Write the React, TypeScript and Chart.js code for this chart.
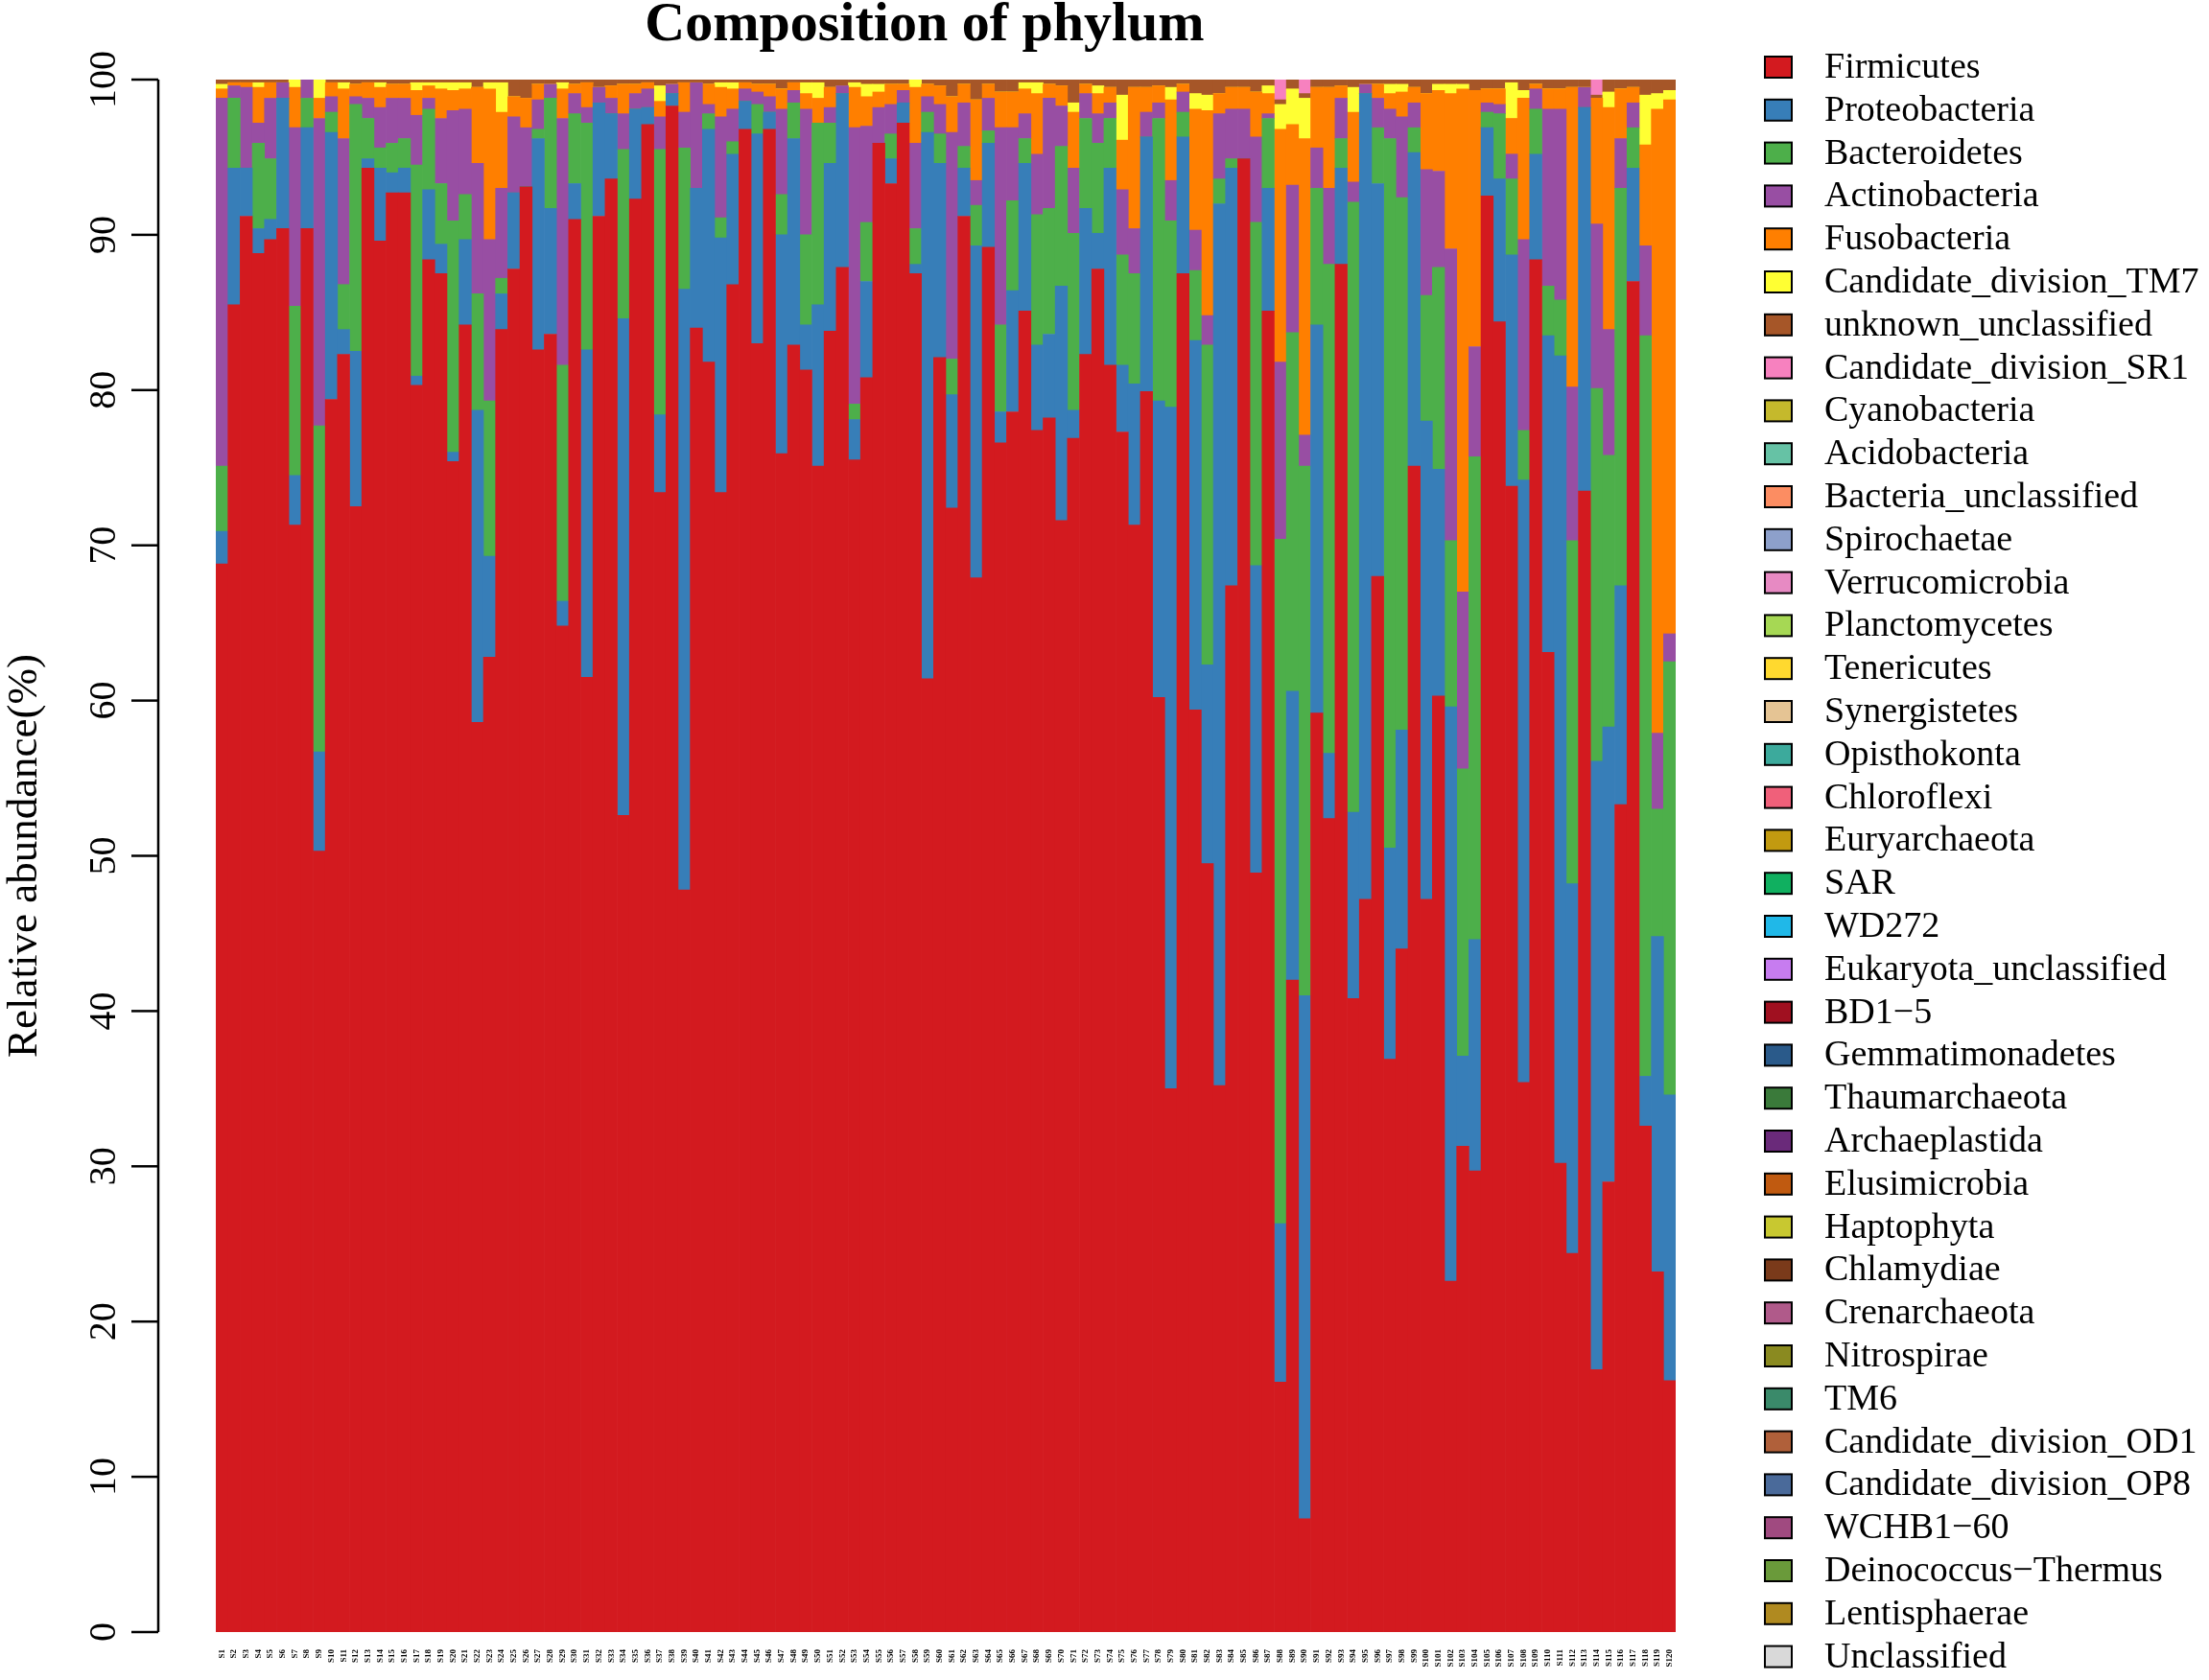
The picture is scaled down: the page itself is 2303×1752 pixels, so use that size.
import React, { useEffect, useRef } from 'react';
import { Chart, registerables } from 'chart.js';

Chart.register(...registerables);

const phyla = [
  'Firmicutes', 'Proteobacteria', 'Bacteroidetes', 'Actinobacteria', 'Fusobacteria',
  'Candidate_division_TM7', 'unknown_unclassified', 'Candidate_division_SR1', 'Cyanobacteria',
  'Acidobacteria', 'Bacteria_unclassified', 'Spirochaetae', 'Verrucomicrobia', 'Planctomycetes',
  'Tenericutes', 'Synergistetes', 'Opisthokonta', 'Chloroflexi', 'Euryarchaeota', 'SAR', 'WD272',
  'Eukaryota_unclassified', 'BD1\u22125', 'Gemmatimonadetes', 'Thaumarchaeota', 'Archaeplastida',
  'Elusimicrobia', 'Haptophyta', 'Chlamydiae', 'Crenarchaeota', 'Nitrospirae', 'TM6',
  'Candidate_division_OD1', 'Candidate_division_OP8', 'WCHB1\u221260', 'Deinococcus\u2212Thermus',
  'Lentisphaerae', 'Unclassified',
];

const phylumColors = [
  '#D31A1F', '#377EB8', '#4DAF4A', '#984EA3', '#FF7F00', '#FFFF33', '#A65628', '#F781BF',
  '#C5B92C', '#66C2A5', '#FC8D62', '#8DA0CB', '#E78AC3', '#A6D854', '#FFD92F', '#E5C494',
  '#3CAA9C', '#F0607A', '#C29A10', '#10B060', '#20B8E8', '#C77CF0', '#A01020', '#2A5A8A',
  '#3A7A3A', '#6A2A7A', '#C05A10', '#C8C830', '#7A3A1A', '#B05A8A', '#8A8A20', '#3A8A6A',
  '#B0603A', '#4A6A9A', '#A04A80', '#6A9A3A', '#B08A20', '#D9D9D9',
];

const samples = Array.from({ length: 120 }, (_, i) => `S${i + 1}`);

const firmicutes = [
  68.8, 85.5, 91.2, 88.8, 89.7, 90.4, 71.3, 90.4, 50.3, 79.4,
  82.3, 72.5, 94.3, 89.6, 92.7, 92.7, 80.3, 88.4, 87.5, 75.4,
  84.2, 58.6, 62.8, 83.9, 87.8, 93.1, 82.6, 83.6, 64.8, 91.0,
  61.5, 91.2, 93.6, 52.6, 92.3, 97.1, 73.4, 98.3, 47.8, 84.0,
  81.8, 73.4, 86.8, 96.8, 83.0, 96.8, 75.9, 82.9, 81.3, 75.1,
  83.8, 87.9, 75.5, 80.8, 95.9, 93.3, 97.2, 87.5, 61.4, 82.1,
  72.4, 91.2, 67.9, 89.2, 76.6, 78.6, 85.1, 77.4, 78.2, 71.6,
  76.9, 82.3, 87.8, 81.6, 77.3, 71.3, 79.9, 60.2, 35.0, 87.5,
  59.4, 49.5, 35.2, 67.4, 94.9, 48.9, 85.1, 16.1, 42.0, 7.3,
  59.2, 52.4, 88.1, 40.8, 47.2, 68.0, 36.9, 44.0, 75.1, 47.2,
  60.3, 22.6, 31.3, 29.7, 92.5, 84.4, 73.8, 35.4, 88.4, 63.1,
  30.2, 24.4, 73.5, 16.9, 29.0, 53.3, 87.0, 32.6, 23.2, 16.2,
];

const proteobacteria = [
  2.1, 8.8, 3.1, 1.6, 1.3, 8.4, 3.2, 6.5, 6.4, 17.2,
  1.6, 10.0, 0.6, 4.7, 1.3, 1.6, 0.6, 4.5, 1.9, 0.6,
  5.5, 20.1, 6.5, 2.3, 4.9, 0, 13.6, 8.1, 1.6, 2.3,
  21.1, 7.3, 4.2, 32.0, 5.8, 1.1, 5.0, 0.8, 38.7, 9.0,
  15.0, 16.4, 8.4, 1.8, 13.5, 1.1, 14.1, 13.3, 2.9, 10.4,
  10.8, 11.2, 2.6, 6.2, 0, 1.6, 1.3, 0.6, 35.2, 12.5,
  7.3, 3.1, 21.4, 6.7, 2.0, 7.8, 9.5, 5.5, 5.4, 15.1,
  1.8, 9.4, 2.3, 12.7, 4.3, 9.1, 16.4, 19.1, 43.9, 8.8,
  23.8, 12.8, 56.8, 26.9, 0, 19.8, 7.9, 10.2, 18.6, 33.7,
  25.0, 4.2, 6.2, 12.0, 51.9, 25.3, 13.6, 14.1, 20.2, 30.8,
  14.6, 37.0, 5.8, 14.9, 4.4, 9.2, 14.9, 38.8, 6.8, 20.4,
  52.0, 23.8, 24.7, 39.2, 29.3, 14.1, 7.3, 3.2, 21.6, 18.4,
];

const bacteroidetes = [
  4.2, 4.5, 0, 5.5, 3.9, 0, 10.9, 1.9, 21.0, 1.3,
  2.9, 15.9, 2.6, 1.3, 1.9, 1.9, 13.6, 5.2, 3.9, 14.9,
  2.9, 7.5, 10.0, 1.0, 0, 0, 0.6, 7.1, 15.2, 4.5,
  14.6, 0, 0, 10.9, 0, 0, 17.1, 0, 9.1, 0,
  1.0, 1.3, 0.8, 0, 1.9, 0, 2.6, 2.3, 5.8, 11.7,
  2.6, 0, 1.0, 3.8, 0, 1.6, 0, 2.3, 1.3, 1.9,
  2.3, 1.4, 2.6, 0.8, 5.6, 5.8, 1.6, 8.4, 8.1, 9.0,
  11.4, 5.8, 5.8, 3.2, 7.1, 7.1, 0, 18.2, 12.0, 1.6,
  4.5, 20.6, 1.6, 0.6, 0, 22.1, 4.5, 44.1, 23.1, 34.1,
  8.8, 31.5, 1.9, 39.3, 0, 3.6, 45.7, 34.3, 1.6, 8.1,
  13.0, 10.7, 18.5, 31.1, 1.0, 4.2, 4.9, 3.2, 2.9, 3.2,
  3.6, 22.1, 0, 24.0, 17.5, 25.6, 2.6, 47.7, 8.2, 27.9,
];

const actinobacteria = [
  23.7, 0.8, 5.2, 1.3, 3.9, 1.0, 11.5, 1.2, 19.8, 1.0,
  9.4, 0.5, 1.3, 2.6, 2.9, 2.6, 3.2, 0.7, 4.2, 7.1,
  5.5, 8.4, 10.4, 5.8, 4.9, 3.8, 1.9, 0.9, 15.9, 1.3,
  1.0, 1.0, 1.0, 2.3, 1.0, 1.2, 2.1, 0.6, 2.3, 6.8,
  0.6, 6.5, 2.1, 0.8, 0.8, 1.0, 5.5, 0.8, 8.1, 0,
  1.0, 0.5, 17.8, 6.2, 2.3, 1.9, 0.8, 5.5, 1.0, 1.9,
  14.6, 2.8, 1.6, 2.1, 12.7, 4.7, 1.6, 3.9, 7.1, 2.6,
  4.2, 1.6, 1.9, 1.0, 4.2, 2.9, 1.6, 1.0, 2.6, 1.3,
  2.6, 1.9, 4.2, 3.2, 3.2, 5.5, 0.3, 11.4, 9.5, 2.0,
  2.6, 4.9, 2.6, 1.3, 0.6, 1.9, 1.9, 5.2, 1.6, 8.1,
  6.2, 18.8, 11.4, 7.1, 0.6, 0.6, 1.6, 12.3, 1.3, 11.4,
  12.3, 9.9, 1.3, 10.6, 8.1, 3.2, 1.6, 5.8, 4.9, 1.8,
];

const fusobacteria = [
  0.6, 0.2, 0.3, 2.3, 1.0, 0, 2.6, 0, 1.3, 0.9,
  3.2, 0.8, 1.0, 1.3, 0.9, 0.9, 1.6, 0.8, 1.9, 1.3,
  1.3, 4.9, 9.7, 4.9, 1.3, 1.9, 1.0, 0, 1.9, 0.6,
  1.6, 0, 0.8, 1.9, 0.6, 0.4, 1.0, 0, 1.9, 0,
  1.3, 1.9, 1.3, 0.4, 0.5, 0.8, 1.3, 0.5, 1.0, 1.6,
  1.3, 0, 2.6, 1.9, 1.0, 1.3, 0.4, 3.6, 0.8, 1.2,
  2.3, 1.2, 5.2, 0.9, 2.3, 2.3, 1.6, 3.9, 0.9, 1.3,
  3.6, 0.6, 1.3, 1.0, 3.2, 9.1, 1.6, 1.1, 5.2, 0.5,
  7.8, 13.2, 1.3, 1.4, 1.4, 2.9, 1.3, 15.0, 3.9, 19.1,
  3.9, 6.5, 0.8, 4.5, 0, 0.9, 1.0, 1.6, 1.0, 4.9,
  5.2, 10.0, 32.4, 16.5, 0.9, 1.0, 2.3, 9.1, 0.3, 1.3,
  1.3, 19.3, 0, 8.1, 14.3, 3.2, 1.0, 6.5, 40.2, 34.4,
];

// [sample number, value] for the thin top layers
const tm7Entries: [number, number][] = [
  [1, 0.3], [4, 0.3], [7, 0.5], [9, 1.2], [11, 0.4], [14, 0.3], [17, 0.5], [18, 0.2],
  [19, 0.4], [20, 0.5], [21, 0.4], [23, 0.4], [24, 1.9], [29, 0.4], [37, 1.0], [42, 0.3],
  [43, 0.4], [49, 0.7], [50, 1.0], [53, 0.3], [54, 0.8], [55, 0.5], [58, 0.5], [67, 0.4],
  [68, 0.7], [71, 0.6], [73, 0.5], [75, 2.9], [79, 0.8], [81, 1.0], [82, 1.0], [87, 0.5],
  [88, 1.6], [89, 2.3], [90, 2.6], [94, 1.6], [97, 0.6], [98, 0.5], [101, 0.4], [102, 0.6],
  [103, 0.3], [107, 2.3], [108, 0.5], [115, 1.0], [118, 3.2], [119, 1.0], [120, 0.6],
];

const sr1Entries: [number, number][] = [[88, 1.3], [90, 0.9], [114, 1.0]];

const unknownUnclassified = [
  0.3, 0.2, 0.2, 0.2, 0.2, 0.2, 0, 0, 0, 0.2,
  0.2, 0.3, 0.2, 0.2, 0.3, 0.3, 0.2, 0.2, 0.2, 0.2,
  0.2, 0.5, 0.2, 0.2, 1.1, 1.2, 0.3, 0.3, 0.2, 0.3,
  0.2, 0.5, 0.4, 0.3, 0.3, 0.2, 0.4, 0.3, 0.2, 0.2,
  0.3, 0.2, 0.2, 0.2, 0.3, 0.3, 0.6, 0.2, 0.2, 0.2,
  0.5, 0.4, 0.2, 0.3, 0.3, 0.3, 0.3, 0, 0.3, 0.4,
  1.1, 0.3, 1.3, 0.3, 0.8, 0.8, 0.2, 0.2, 0.3, 0.4,
  1.5, 0.3, 0.4, 0.5, 1.0, 0.5, 0.5, 0.4, 0.5, 0.3,
  0.9, 1.0, 0.9, 0.5, 0.5, 0.8, 0.4, 0.3, 0.6, 0.3,
  0.5, 0.5, 0.4, 0.5, 0.3, 0.3, 0.3, 0.3, 0.5, 0.9,
  0.3, 0.3, 0.3, 0.7, 0.6, 0.6, 0.2, 0.7, 0.3, 0.6,
  0.6, 0.5, 0.5, 0.2, 0.8, 0.6, 0.5, 1.0, 0.9, 0.7,
];

const yTicks = [0, 10, 20, 30, 40, 50, 60, 70, 80, 90, 100];

function fromEntries(entries: [number, number][]) {
  const out = samples.map(() => 0);
  entries.forEach(([n, v]) => { out[n - 1] = v; });
  return out;
}

const seriesData: number[][] = [
  firmicutes, proteobacteria, bacteroidetes, actinobacteria, fusobacteria,
  fromEntries(tm7Entries), unknownUnclassified, fromEntries(sr1Entries),
];

const SERIF = '"Liberation Serif", "DejaVu Serif", serif';

// R-style axes, title and legend drawn on the canvas
const decorations = {
  id: 'decorations',
  afterDraw(chart: any) {
    const { ctx, chartArea, scales } = chart;
    const y = scales.y;
    const x = scales.x;
    ctx.save();
    ctx.fillStyle = '#000';
    ctx.strokeStyle = '#000';

    // title
    ctx.font = `bold 58px ${SERIF}`;
    ctx.textAlign = 'center';
    ctx.textBaseline = 'alphabetic';
    ctx.fillText('Composition of phylum', 964, 42);

    // y axis
    const axisX = chartArea.left - 60;
    ctx.lineWidth = 2.5;
    ctx.beginPath();
    ctx.moveTo(axisX, y.getPixelForValue(0));
    ctx.lineTo(axisX, y.getPixelForValue(100));
    ctx.stroke();
    ctx.font = `40px ${SERIF}`;
    ctx.textBaseline = 'middle';
    yTicks.forEach((v) => {
      const py = y.getPixelForValue(v);
      ctx.beginPath();
      ctx.moveTo(axisX - 28, py);
      ctx.lineTo(axisX, py);
      ctx.stroke();
      ctx.save();
      ctx.translate(axisX - 56, py);
      ctx.rotate(-Math.PI / 2);
      ctx.fillText(String(v), 0, 0);
      ctx.restore();
    });

    // y title
    ctx.save();
    ctx.font = `45px ${SERIF}`;
    ctx.translate(26, (y.getPixelForValue(0) + y.getPixelForValue(100)) / 2);
    ctx.rotate(-Math.PI / 2);
    ctx.fillText('Relative abundance(%)', 0, 0);
    ctx.restore();

    // tiny sample names under the bars
    ctx.font = `bold 9px ${SERIF}`;
    ctx.textAlign = 'right';
    samples.forEach((s, i) => {
      ctx.save();
      ctx.translate(x.getPixelForValue(i), chartArea.bottom + 18);
      ctx.rotate(-Math.PI / 2);
      ctx.fillText(s, 0, 0);
      ctx.restore();
    });

    // legend
    ctx.font = `38px ${SERIF}`;
    ctx.textAlign = 'left';
    ctx.lineWidth = 2;
    chart.data.datasets.forEach((ds: any, i: number) => {
      const cy = 70 + i * 44.8;
      ctx.fillStyle = ds.backgroundColor;
      ctx.fillRect(1840, cy - 11, 28, 22);
      ctx.strokeRect(1840, cy - 11, 28, 22);
      ctx.fillStyle = '#000';
      ctx.fillText(ds.label, 1902, cy + 1);
    });
    ctx.restore();
  },
};

export default function App() {
  const canvasRef = useRef<HTMLCanvasElement | null>(null);
  const chartRef = useRef<Chart | null>(null);

  useEffect(() => {
    document.body.style.margin = '0';
    const ctx = canvasRef.current?.getContext('2d');
    if (ctx) {
      chartRef.current = new Chart(ctx, {
        type: 'bar',
        data: {
          labels: samples,
          datasets: phyla.map((name, i) => ({
            label: name,
            data: seriesData[i] ?? [],
            backgroundColor: phylumColors[i],
            borderWidth: 0,
            barPercentage: 1,
            categoryPercentage: 1,
          })),
        },
        options: {
          responsive: true,
          maintainAspectRatio: false,
          animation: false,
          layout: { padding: { left: 225, right: 556, top: 83, bottom: 50 } },
          plugins: {
            legend: { display: false },
            title: { display: false },
            tooltip: { enabled: false },
          },
          scales: {
            x: { stacked: true, display: false, grid: { display: false } },
            y: { stacked: true, display: false, min: 0, max: 100, grid: { display: false } },
          },
        },
        plugins: [decorations],
      });
    }
    return () => {
      if (chartRef.current) chartRef.current.destroy();
    };
  }, []);

  return (
    <div style={{ width: 2303, height: 1752, background: '#fff' }}>
      <canvas ref={canvasRef}></canvas>
    </div>
  );
}
